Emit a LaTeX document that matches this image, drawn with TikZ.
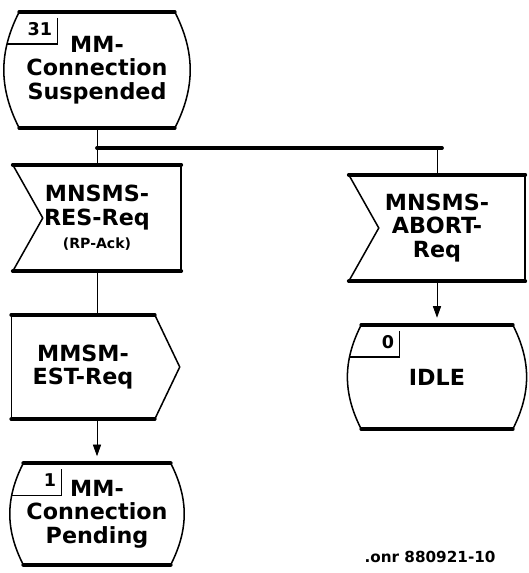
\documentclass[tikz,border=0pt]{standalone}
\usepackage{fontspec}
\setmainfont{DejaVu Sans}
\usepackage{tikz}
\usetikzlibrary{arrows.meta,calc}

\begin{document}
\begin{tikzpicture}[x=0.03cm,y=-0.03cm,
  sym/.style={inner sep=0pt,align=center,font=\bfseries\fontsize{19}{20}\selectfont},
  numlbl/.style={inner sep=0pt,anchor=east,font=\bfseries\fontsize{15}{15}\selectfont},
  hline/.style={line width=3.2pt,line cap=round},
  side/.style={line width=1.3pt},
  flow/.style={line width=0.8pt},
  flowarr/.style={flow,-{Triangle[width=7pt,length=10pt]},shorten >=6pt}]
\useasboundingbox (0,0) rectangle (528,573);

% states
\node[sym,minimum width=4.65cm,minimum height=3.48cm] (s31) at (97,70) {MM-\\Connection\\Suspended};
\node[sym,minimum width=4.41cm,minimum height=3.03cm] (s1) at (97,514) {MM-\\Connection\\Pending};
\node[sym,minimum width=4.53cm,minimum height=3.12cm] (s0) at (437,377) {IDLE};
% inputs
\node[sym,minimum width=5.04cm,minimum height=3.18cm] (inres) at (97,218) {MNSMS-\\RES-Req\\{\fontsize{12}{14}\selectfont(RP-Ack)}};
\node[sym,minimum width=5.28cm,minimum height=3.18cm] (inabort) at (437,228) {MNSMS-\\ABORT-\\Req};
% output
\node[sym,minimum width=4.29cm,minimum height=3.12cm] (outest) at (83,367) {MMSM-\\EST-Req};

\node[font=\bfseries\fontsize{13}{13}\selectfont,inner sep=0pt] (note) at (430,557) {.onr 880921-10};

\foreach \s/\n in {s31/31,s1/1,s0/0} {
  \draw[hline] (\s.north west) -- (\s.north east);
  \draw[hline] (\s.south west) -- (\s.south east);
  \draw[side] (\s.north west) to[bend right=27] (\s.south west);
  \draw[side] (\s.north east) to[bend left=27] (\s.south east);
  \draw[side] ($(\s.north west)+(38,6)$) -- ++(0,26) -- ++(-50,0);
  \node[numlbl] (num\s) at ($(\s.north west)+(33,17)$) {\n};
}
\foreach \s in {inres,inabort} {
  \draw[hline] (\s.north west) -- (\s.north east);
  \draw[hline] (\s.south west) -- (\s.south east);
  \draw[side] (\s.north east) -- (\s.south east);
  \draw[side] (\s.north west) -- ($(\s.west)+(30,0)$) -- (\s.south west);
}
\draw[hline] (outest.north west) -- (outest.north east);
\draw[hline] (outest.south west) -- (outest.south east);
\draw[side] (outest.north west) -- (outest.south west);
\draw[side] (outest.north east) -- ($(outest.east)+(25,0)$) -- (outest.south east);

% flow lines
\coordinate (fork) at (97,148);
\coordinate (forkr) at (437,148);
\draw[flow] (s31.south) -- (inres.north);
\draw[hline] (fork) -- ($(forkr)+(5,0)$);
\draw[flow] (forkr) -- (inabort.north);
\draw[flow] (inres.south) -- (inres.south |- outest.north);
\draw[flowarr] (s1.north |- outest.south) -- (s1.north);
\draw[flowarr] (inabort.south) -- (s0.north);
\end{tikzpicture}
\end{document}
